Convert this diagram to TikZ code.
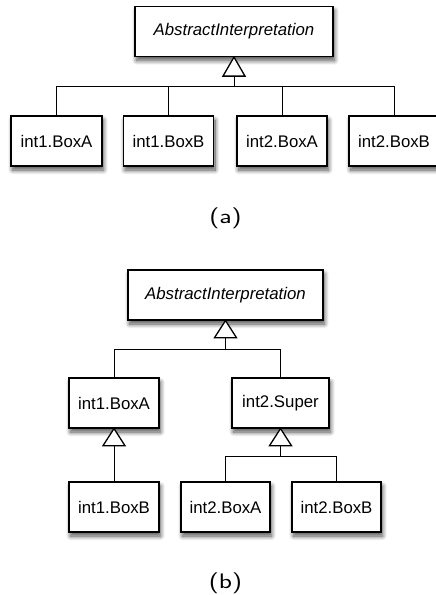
\documentclass[tikz,border=0pt]{standalone}
\usepackage{fontspec}
\setmainfont{Liberation Sans}
\usetikzlibrary{shadows.blur}

\tikzset{
  cls/.style={draw=black, fill=white, line width=1.2pt, minimum height=50pt,
    inner sep=0pt, font=\fontsize{16.8}{18}\selectfont,
    blur shadow={shadow xshift=1.5pt, shadow yshift=-4pt,
      shadow blur radius=4.5pt, shadow blur steps=12, shadow opacity=70}},
  link/.style={draw=black, line width=1pt},
  % open generalisation triangle, apex at the pic origin, base 19pt below
  gentri/.pic={\draw[line width=1.3pt, fill=white] (0,0) -- (-11,19) -- (11,19) -- cycle;},
  caption/.style={font=\sffamily\fontsize{21}{23}\selectfont}
}
\newcommand{\captext}[1]{\scalebox{1.3}[1]{#1}}

\begin{document}
\begin{tikzpicture}[x=1pt, y=-1pt]
\useasboundingbox (0,0) rectangle (436,595);

% ---- (a): flat hierarchy ----
\node[cls, minimum width=198pt] (aroot) at (234,31.5) {\itshape AbstractInterpretation};
\node[cls, minimum width=91pt] (a1) at (56.5,141) {int1.BoxA};
\node[cls, minimum width=90pt] (a2) at (168.5,141) {int1.BoxB};
\node[cls, minimum width=90pt] (a3) at (282,141) {int2.BoxA};
\node[cls, minimum width=90pt] (a4) at (394,141) {int2.BoxB};
\coordinate (aj) at (234,86);
\coordinate (ta) at ([yshift=-19pt]aroot.south);
\foreach \c in {a1,a2,a3,a4} \draw[link] (\c.north) |- (aj);
\draw[link] (aj) -- (ta);
\pic at (aroot.south) {gentri};
\node[caption] (capa) at (225.5,218) {\captext{(a)}};

% ---- (b): grouped hierarchy ----
\node[cls, minimum width=195pt] (broot) at (225.5,295) {\itshape AbstractInterpretation};
\node[cls, minimum width=90pt] (b1) at (114,403) {int1.BoxA};
\node[cls, minimum width=97pt] (bs) at (280.5,403) {int2.Super};
\node[cls, minimum width=90pt] (b2) at (114,507) {int1.BoxB};
\node[cls, minimum width=89pt] (b3) at (225.5,507) {int2.BoxA};
\node[cls, minimum width=89pt] (b4) at (336.5,507) {int2.BoxB};
\coordinate (bj) at (225.5,349);
\coordinate (sj) at (280.5,456);
\coordinate (tb) at ([yshift=-17pt]broot.south);
\coordinate (t1) at ([yshift=-17pt]b1.south);
\coordinate (ts) at ([yshift=-17pt]bs.south);
\draw[link] (b1.north) |- (bj);
\draw[link] (bs.north) |- (bj);
\draw[link] (bj) -- (tb);
\draw[link] (b2.north) -- (t1);
\draw[link] (b3.north) |- (sj);
\draw[link] (b4.north) |- (sj);
\draw[link] (sj) -- (ts);
\pic[yscale=0.9] at (broot.south) {gentri};
\pic[yscale=0.9] at (b1.south) {gentri};
\pic[yscale=0.9] at (bs.south) {gentri};
\node[caption] (capb) at (225.5,583) {\captext{(b)}};
\end{tikzpicture}
\end{document}
